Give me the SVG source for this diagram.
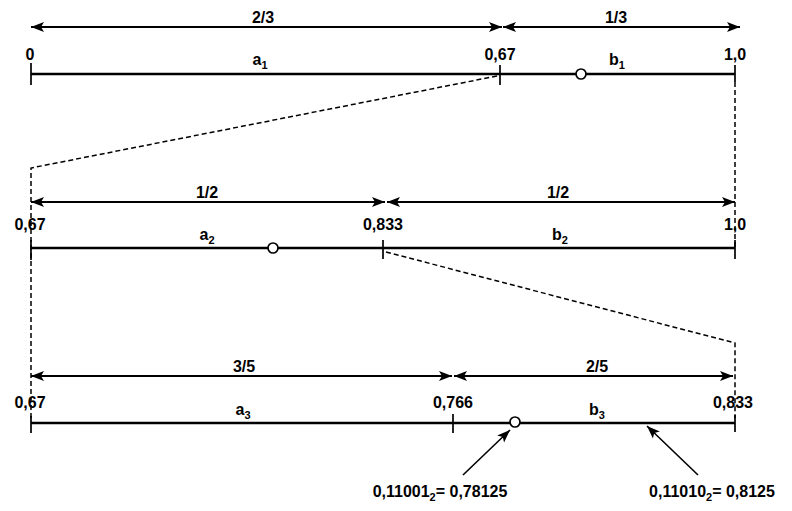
<svg xmlns="http://www.w3.org/2000/svg" width="792" height="511" viewBox="0 0 792 511">
<style>
text{font-family:"Liberation Sans",Arial,sans-serif;font-size:16px;font-weight:bold;fill:#000;text-anchor:middle}
.sub{font-size:11px}
.axis{stroke:#000;stroke-width:2.6;fill:none}
.tick{stroke:#000;stroke-width:1.7;fill:none}
.dim{stroke:#000;stroke-width:2;fill:none;marker-end:url(#ah);marker-start:url(#ah)}
.dash{stroke:#000;stroke-width:1.5;fill:none;stroke-dasharray:5,3}
.pt{fill:#fff;stroke:#000;stroke-width:1.7}
.ptr{stroke:#000;stroke-width:1.6;fill:none;marker-end:url(#ah2)}
</style>
<defs>
<marker id="ah" markerUnits="userSpaceOnUse" markerWidth="14" markerHeight="12" refX="13" refY="5" orient="auto-start-reverse" viewBox="0 0 14 10">
<path d="M0,0 L13,5 L0,10 L3,5 z" fill="#000"/>
</marker>
<marker id="ah2" markerUnits="userSpaceOnUse" markerWidth="14" markerHeight="12" refX="13" refY="5" orient="auto" viewBox="0 0 14 10">
<path d="M0,0 L13,5 L0,10 L3,5 z" fill="#000"/>
</marker>
</defs>

<g id="connectors">
<path class="dash" d="M497,76 L31,168 L31,418"/>
<path class="dash" d="M735,82 L735,248"/>
<path class="dash" d="M386,252 L735,343 L735,418"/>
<path class="ptr" d="M463,475 L510,430"/>
<path class="ptr" d="M698,475 L647,426"/>
</g>

<g id="row1">
<line class="dim" x1="31" y1="27" x2="502" y2="27"/>
<line class="dim" x1="503" y1="27" x2="740" y2="27"/>
<text x="263" y="23">2/3</text>
<text x="616" y="23">1/3</text>
<line class="axis" x1="31" y1="74" x2="735" y2="74"/>
<line class="tick" x1="31" y1="63" x2="31" y2="85"/>
<line class="tick" x1="500" y1="65" x2="500" y2="85"/>
<line class="tick" x1="735" y1="65" x2="735" y2="82"/>
<text x="30" y="60">0</text>
<text x="500" y="60">0,67</text>
<text x="735" y="60">1,0</text>
<text x="260" y="65">a<tspan class="sub" dy="4">1</tspan></text>
<text x="617" y="65">b<tspan class="sub" dy="4">1</tspan></text>
<circle class="pt" cx="581" cy="74" r="5"/>
</g>

<g id="row2">
<line class="dim" x1="31" y1="202" x2="385" y2="202"/>
<line class="dim" x1="387" y1="202" x2="735" y2="202"/>
<text x="207" y="198">1/2</text>
<text x="558" y="198">1/2</text>
<line class="axis" x1="31" y1="248" x2="735" y2="248"/>
<line class="tick" x1="31" y1="240" x2="31" y2="260"/>
<line class="tick" x1="383" y1="240" x2="383" y2="259"/>
<line class="tick" x1="735" y1="240" x2="735" y2="259"/>
<text x="30" y="230">0,67</text>
<text x="383" y="230">0,833</text>
<text x="735" y="230">1,0</text>
<text x="207" y="240">a<tspan class="sub" dy="4">2</tspan></text>
<text x="560" y="240">b<tspan class="sub" dy="4">2</tspan></text>
<circle class="pt" cx="273" cy="248" r="5"/>
</g>

<g id="row3">
<line class="dim" x1="31" y1="376" x2="452" y2="376"/>
<line class="dim" x1="454" y1="376" x2="733" y2="376"/>
<text x="244" y="372">3/5</text>
<text x="597" y="372">2/5</text>
<line class="axis" x1="31" y1="423" x2="735" y2="423"/>
<line class="tick" x1="31" y1="416" x2="31" y2="433"/>
<line class="tick" x1="453" y1="414" x2="453" y2="433"/>
<line class="tick" x1="735" y1="415" x2="735" y2="432"/>
<text x="30" y="408">0,67</text>
<text x="453" y="408">0,766</text>
<text x="733" y="408">0,833</text>
<text x="243" y="415">a<tspan class="sub" dy="4">3</tspan></text>
<text x="597" y="415">b<tspan class="sub" dy="4">3</tspan></text>
<circle class="pt" cx="515" cy="422" r="5"/>
</g>

<g id="labels">
<text x="440" y="497">0,11001<tspan class="sub" dy="4">2</tspan><tspan dy="-4">= 0,78125</tspan></text>
<text x="712" y="497">0,11010<tspan class="sub" dy="4">2</tspan><tspan dy="-4">= 0,8125</tspan></text>
</g>
</svg>
